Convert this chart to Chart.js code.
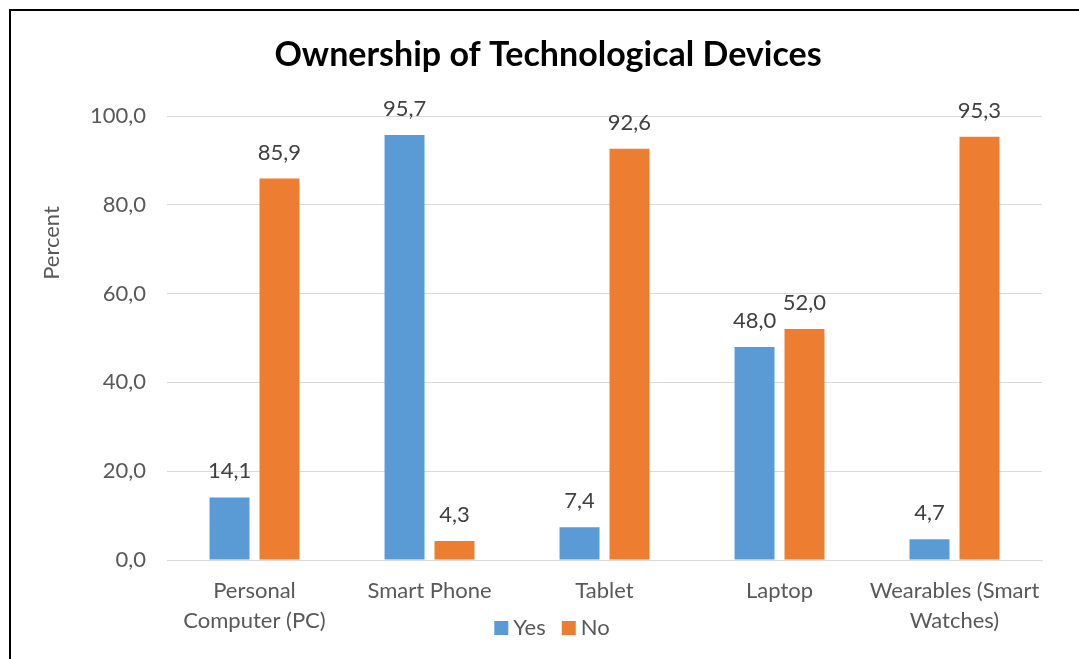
<!DOCTYPE html>
<html>
<head>
<meta charset="utf-8">
<script src="https://cdn.jsdelivr.net/npm/chart.js@4/dist/chart.umd.min.js"></script>
<style>
  body { margin: 0; background: #fff; }
  canvas { display: block; }
</style>
</head>
<body>
<canvas id="chart" width="1079" height="659"></canvas>
<script>
const categories = [
    ["Personal", "Computer (PC)"],
    "Smart Phone",
    "Tablet",
    "Laptop",
    ["Wearables (Smart", "Watches)"]
];
const yesValues = [14.1, 95.7, 7.4, 48.0, 4.7];
const noValues = [85.9, 4.3, 92.6, 52.0, 95.3];

const TITLE = "Ownership of Technological Devices";
const FONT = "Lato, 'Liberation Sans', sans-serif";
const fmt = v => v.toFixed(1).replace(".", ",");

// frame line on the top and left edges
const framePlugin = {
    id: "frame",
    beforeDraw(chart) {
        const ctx = chart.ctx;
        ctx.save();
        ctx.fillStyle = "#fff";
        ctx.fillRect(0, 0, chart.width, chart.height);
        ctx.strokeStyle = "#000";
        ctx.lineWidth = 2;
        ctx.beginPath();
        ctx.moveTo(10, chart.height);
        ctx.lineTo(10, 10);
        ctx.lineTo(chart.width, 10);
        ctx.stroke();
        ctx.restore();
    }
};

// value labels above each bar
const valueLabels = {
    id: "valueLabels",
    afterDatasetsDraw(chart) {
        const ctx = chart.ctx;
        ctx.save();
        ctx.font = "22px " + FONT;
        ctx.fillStyle = "#404040";
        ctx.textAlign = "center";
        ctx.textBaseline = "middle";
        chart.data.datasets.forEach((ds, i) => {
            chart.getDatasetMeta(i).data.forEach((bar, j) => {
                ctx.fillText(fmt(ds.data[j]), bar.x, bar.y - 26);
            });
        });
        ctx.restore();
    }
};

// title, y axis title and the legend under the axis labels
const extras = {
    id: "extras",
    afterDraw(chart) {
        const ctx = chart.ctx;
        ctx.save();
        ctx.font = "bold 34px " + FONT;
        ctx.fillStyle = "#000";
        ctx.textAlign = "center";
        ctx.textBaseline = "middle";
        ctx.fillText(TITLE, 548, 55);
        ctx.restore();

        ctx.save();
        ctx.font = "22px " + FONT;
        ctx.fillStyle = "#595959";
        ctx.textAlign = "center";
        ctx.textBaseline = "middle";
        ctx.translate(52, 243);
        ctx.rotate(-Math.PI / 2);
        ctx.fillText("Percent", 0, 0);
        ctx.restore();

        ctx.save();
        ctx.font = "22px " + FONT;
        ctx.textBaseline = "middle";
        const box = 14, gap = 5, spacing = 16, cy = 628;
        const items = chart.data.datasets.map(ds => ({
            text: ds.label,
            color: ds.backgroundColor,
            w: box + gap + ctx.measureText(ds.label).width
        }));
        const total = items.reduce((s, it) => s + it.w, 0) + spacing * (items.length - 1);
        let x = 552 - total / 2;
        items.forEach(it => {
            ctx.fillStyle = it.color;
            ctx.fillRect(x, cy - box / 2, box, box);
            ctx.fillStyle = "#595959";
            ctx.fillText(it.text, x + box + gap, cy);
            x += it.w + spacing;
        });
        ctx.restore();
    }
};

new Chart(document.getElementById("chart"), {
    type: "bar",
    data: {
        labels: categories,
        datasets: [{
            label: "Yes",
            data: yesValues,
            backgroundColor: "#5B9BD5",
            categoryPercentage: 0.571,
            barPercentage: 0.8
        }, {
            label: "No",
            data: noValues,
            backgroundColor: "#ED7D31",
            categoryPercentage: 0.571,
            barPercentage: 0.8
        }]
    },
    options: {
        responsive: false,
        animation: false,
        layout: {
            padding: { left: 0, right: 37, top: 116, bottom: 0 }
        },
        plugins: {
            title: { display: false },
            legend: { display: false },
            tooltip: { enabled: false }
        },
        scales: {
            x: {
                grid: { display: false, drawTicks: false },
                border: { color: "#D9D9D9", width: 1 },
                ticks: {
                    color: "#595959",
                    font: { family: FONT, size: 22, lineHeight: 1.36 },
                    padding: 16,
                    maxRotation: 0,
                    autoSkip: false
                },
                afterFit(scale) { scale.height = 99; }
            },
            y: {
                min: 0,
                max: 100,
                grid: { color: "#D9D9D9", drawTicks: false },
                border: { display: false },
                ticks: {
                    stepSize: 20,
                    color: "#595959",
                    font: { family: FONT, size: 22 },
                    padding: 21,
                    callback: v => fmt(v)
                },
                afterFit(scale) { scale.width = 167; }
            }
        }
    },
    plugins: [framePlugin, valueLabels, extras]
});
</script>
</body>
</html>
